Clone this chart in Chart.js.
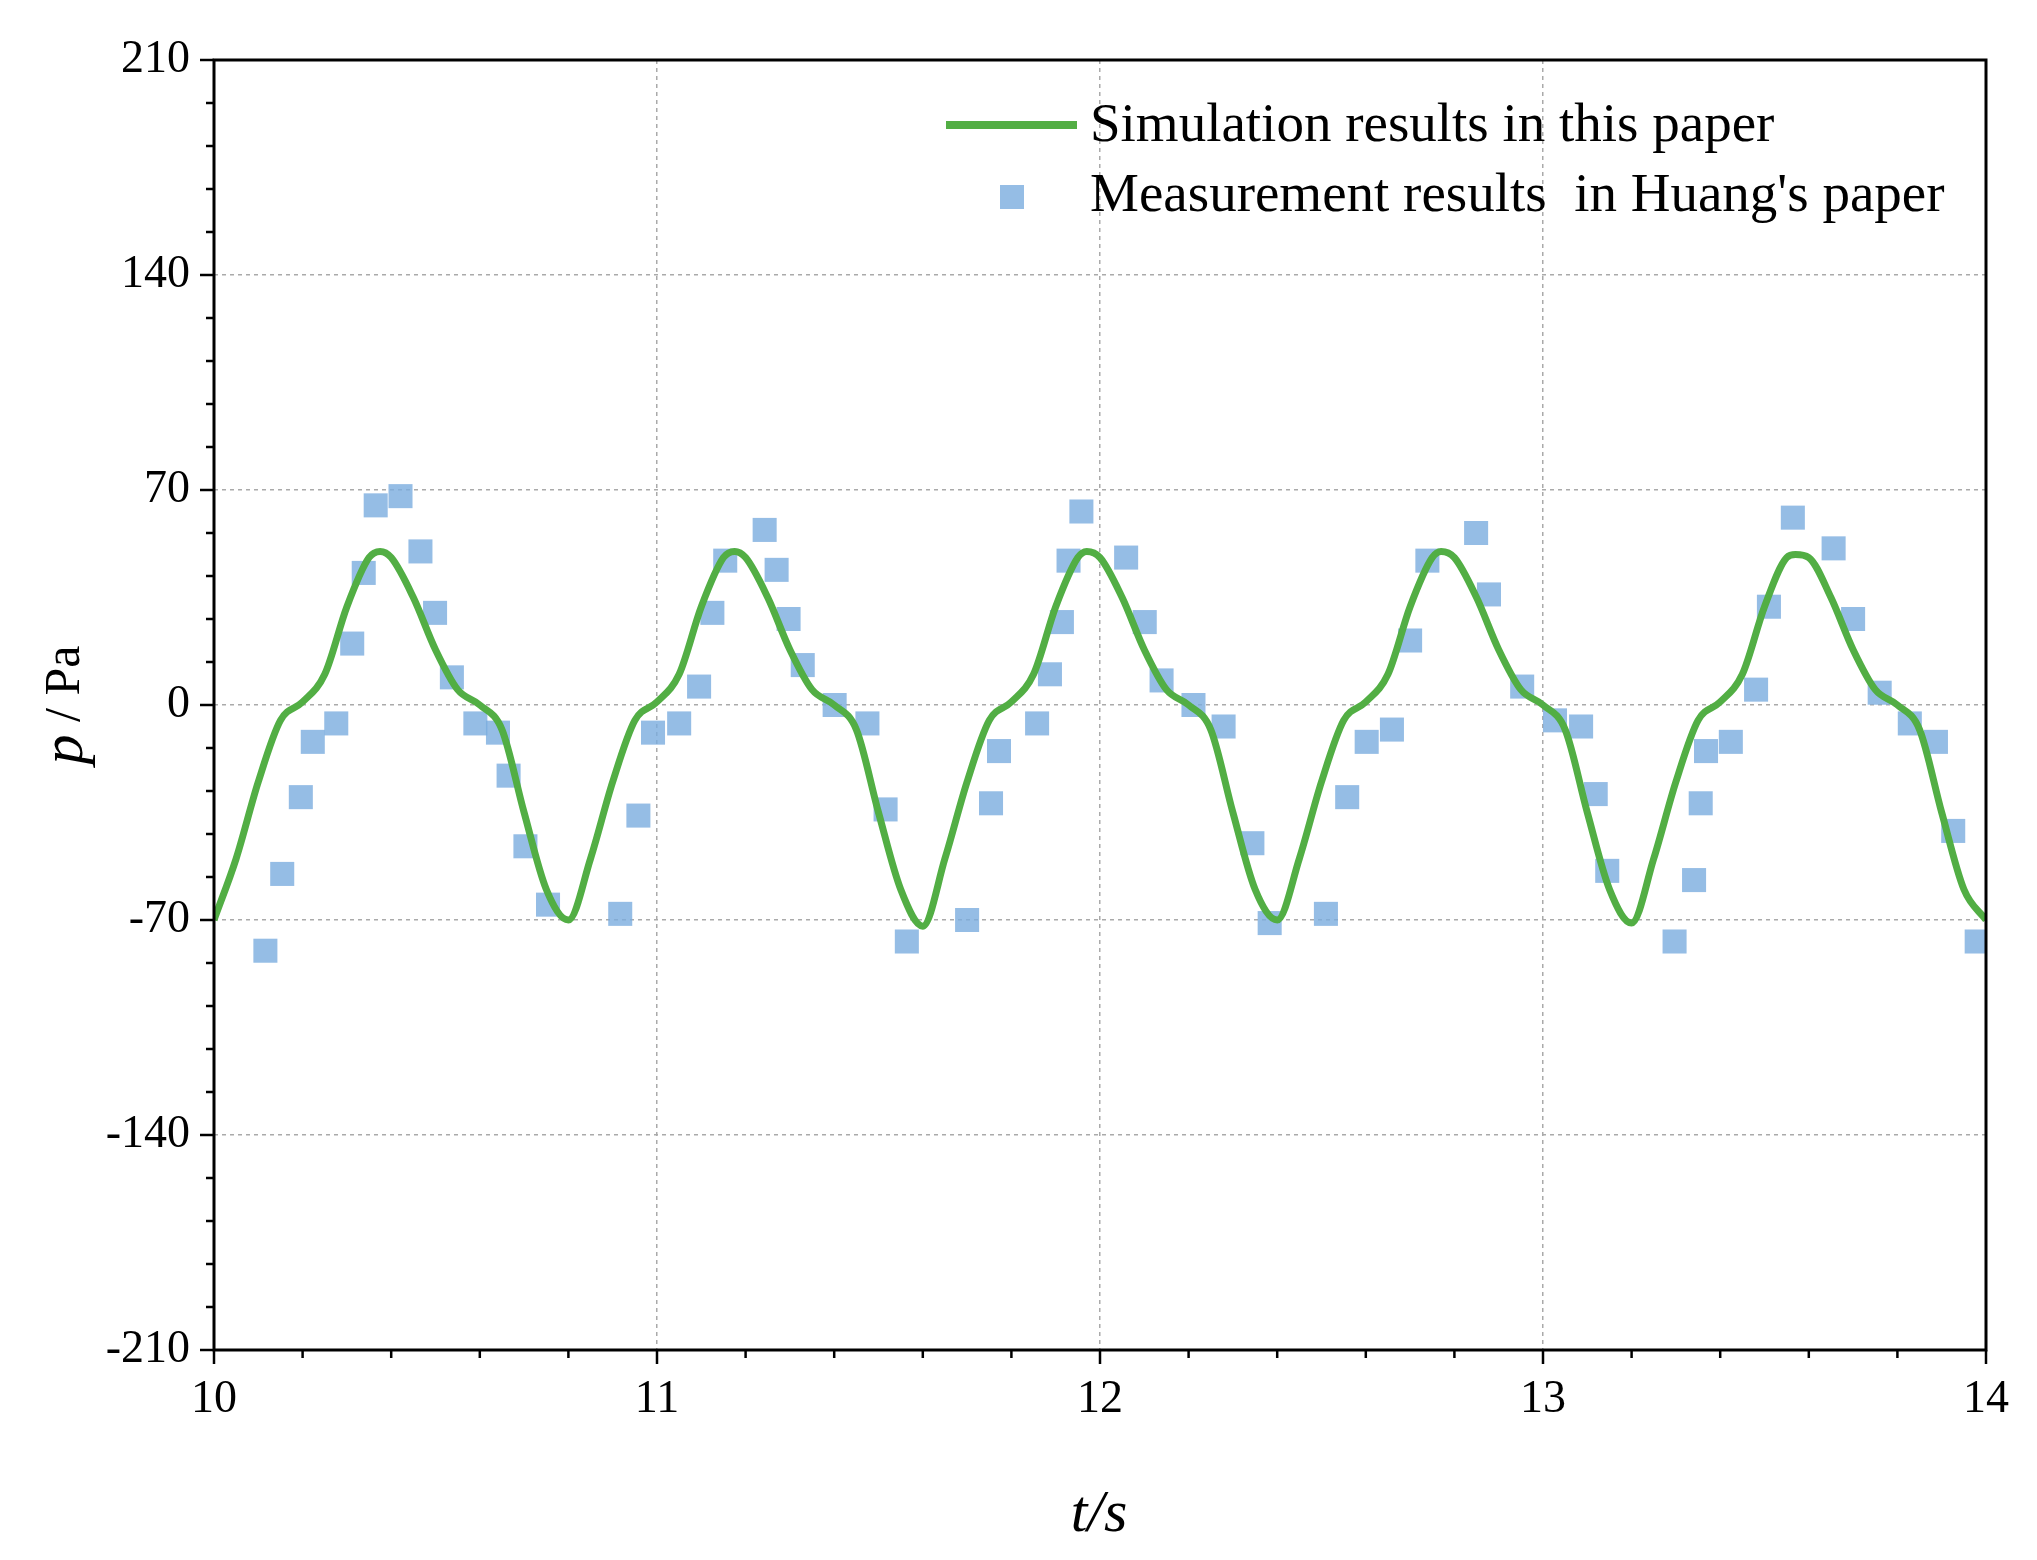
<!DOCTYPE html>
<html><head><meta charset="utf-8">
<script src="https://cdn.jsdelivr.net/npm/chart.js@4"></script>
<style>html,body{margin:0;background:#fff}#w{width:2037px;height:1560px}</style>
</head><body><div id="w"><canvas id="c"></canvas></div>
<script>
const simT = [10.0,10.05,10.1,10.15,10.2,10.25,10.3,10.35,10.375,10.4,10.45,10.5,10.55,10.6,10.65,10.7,10.75,10.8,
10.85,10.9,10.95,11.0,11.05,11.1,11.15,11.175,11.2,11.25,11.3,11.35,11.4,11.45,11.5,11.55,11.6,
11.65,11.7,11.75,11.8,11.85,11.9,11.95,11.97,12.0,12.05,12.1,12.15,12.2,12.25,12.3,12.35,12.4,
12.45,12.5,12.55,12.6,12.65,12.7,12.75,12.77,12.8,12.85,12.9,12.95,13.0,13.05,13.1,13.15,13.2,
13.25,13.3,13.35,13.4,13.45,13.5,13.55,13.57,13.6,13.65,13.7,13.75,13.8,13.85,13.9,13.95,14.0];
const simP = [-70,-50,-25,-5,1,10,32,48,50,48,35,18,5,0,-8,-35,-60,-70,
-50,-25,-5,1,10,32,48,50,48,35,18,5,0,-8,-35,-60,-72,
-50,-25,-5,1,10,32,48,50,48,35,18,5,0,-8,-35,-60,-70,
-50,-25,-5,1,10,32,48,50,48,35,18,5,0,-8,-35,-60,-71,
-50,-25,-5,1,10,32,48,49,48,35,18,5,0,-8,-35,-60,-70];
const measT = [10.116,10.154,10.196,10.223,10.276,10.312,10.338,10.365,10.421,10.466,10.499,10.537,10.590,10.641,10.665,10.703,10.754,
10.917,10.958,10.991,11.050,11.095,11.125,11.154,11.243,11.270,11.297,11.329,11.401,11.475,11.516,11.564,
11.700,11.754,11.772,11.858,11.887,11.914,11.929,11.958,12.059,12.101,12.139,12.211,12.279,12.344,12.383,
12.510,12.558,12.602,12.659,12.700,12.739,12.849,12.878,12.953,13.027,13.086,13.119,13.145,
13.297,13.341,13.356,13.368,13.424,13.481,13.510,13.564,13.656,13.700,13.760,13.828,13.887,13.926,13.979];
const measP = [-80,-55,-30,-12,-6,20,43,65,68,50,30,9,-6,-9,-23,-46,-65,
-68,-36,-9,-6,6,30,47,57,44,28,13,0,-6,-34,-77,
-70,-32,-15,-6,10,27,47,63,48,27,8,0,-7,-45,-71,
-68,-30,-12,-8,21,47,56,36,6,-5,-7,-29,-54,
-77,-57,-32,-15,-12,5,32,61,51,28,4,-6,-12,-41,-77];
const yTicks = [-210,-140,-70,0,70,140,210];
const xTicks = [10,11,12,13,14];
const seriesNames = ["Simulation results in this paper","Measurement results  in Huang's paper"];

const green = 'rgb(82,174,68)', blue = 'rgba(122,172,222,0.8)';
const FONT = '"Liberation Serif", "DejaVu Serif", serif';

const decor = {
  id:'decor',
  afterDraw(ch){
    const c = ch.ctx, a = ch.chartArea, xs = ch.scales.x, ys = ch.scales.y;
    c.save();
    c.strokeStyle='#000'; c.lineWidth=3;
    c.strokeRect(a.left,a.top,a.right-a.left,a.bottom-a.top);
    c.lineWidth=2.5;
    for(let v=-210; v<=210; v+=14){
      const y=ys.getPixelForValue(v), major = v%70===0;
      c.beginPath(); c.moveTo(a.left,y); c.lineTo(a.left-(major?14:8),y); c.stroke();
    }
    for(let i=0;i<=20;i++){
      const v=10+i*0.2, x=xs.getPixelForValue(v), major = i%5===0;
      c.beginPath(); c.moveTo(x,a.bottom); c.lineTo(x,a.bottom+(major?14:8)); c.stroke();
    }
    c.strokeStyle=green; c.lineWidth=8;
    c.beginPath(); c.moveTo(946,125); c.lineTo(1077,125); c.stroke();
    c.fillStyle=blue; c.fillRect(1000,185,24,24);
    c.fillStyle='#000'; c.font='55px '+FONT; c.textBaseline='middle';
    c.fillText(seriesNames[0],1090,127);
    c.fillText(seriesNames[1],1090,197);
    c.font='italic 60px '+FONT; c.textAlign='center';
    c.fillText('t/s',1099,1515);
    c.translate(66,705); c.rotate(-Math.PI/2);
    c.textAlign='left';
    c.font='italic 60px '+FONT; const w1=c.measureText('p').width;
    c.font='50px '+FONT; const w2=c.measureText(' / Pa').width;
    const sx=-(w1+w2)/2;
    c.font='italic 60px '+FONT; c.fillText('p',sx,0);
    c.font='50px '+FONT; c.fillText(' / Pa',sx+w1,0);
    c.restore();
  }
};

new Chart(document.getElementById('c'),{
  data:{datasets:[
    {type:'line',label:seriesNames[0],data:simT.map((t,i)=>({x:t,y:simP[i]})),borderColor:green,borderWidth:7,pointRadius:0,tension:0.4,cubicInterpolationMode:'monotone',order:1},
    {type:'scatter',label:seriesNames[1],data:measT.map((t,i)=>({x:t,y:measP[i]})),backgroundColor:blue,borderWidth:0,pointStyle:'rect',pointRadius:17,order:2}
  ]},
  options:{
    responsive:true,maintainAspectRatio:false,animation:false,
    layout:{padding:{top:60,right:51,left:0,bottom:0}},
    plugins:{legend:{display:false},tooltip:{enabled:false}},
    scales:{
      x:{type:'linear',min:10,max:14,
        afterFit(s){s.height=210;},
        afterBuildTicks(s){s.ticks=xTicks.map(v=>({value:v}));},
        grid:{color:'#aaa',lineWidth:1.5,drawTicks:false},
        border:{display:false,dash:[4,4]},
        ticks:{color:'#000',font:{family:FONT,size:46},padding:22}},
      y:{type:'linear',min:-210,max:210,
        afterFit(s){s.width=214;},
        afterBuildTicks(s){s.ticks=yTicks.map(v=>({value:v}));},
        grid:{color:'#aaa',lineWidth:1.5,drawTicks:false},
        border:{display:false,dash:[4,4]},
        ticks:{color:'#000',font:{family:FONT,size:46},padding:24}}
    }
  },
  plugins:[decor]
});
</script></body></html>
